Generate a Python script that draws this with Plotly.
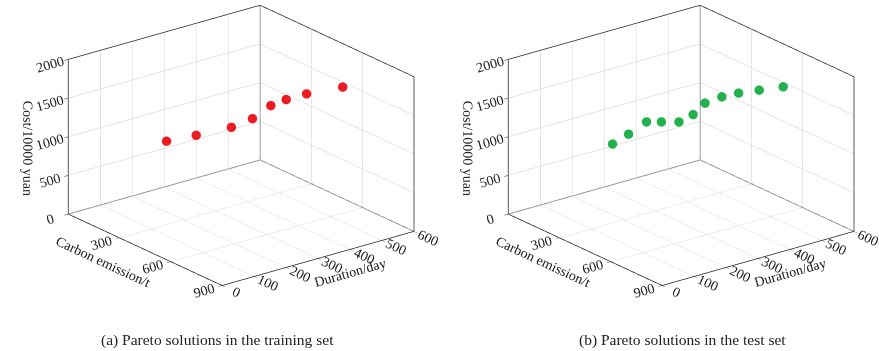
import plotly.graph_objects as go

# Panel (a) training set Pareto solutions
train_carbon = [251, 301, 346, 355, 354, 371, 432, 580]
train_duration = [173, 239, 325, 386, 444, 483, 514, 548]
train_cost = [1000, 1050, 1100, 1150, 1250, 1300, 1400, 1600]

# Panel (b) test set Pareto solutions
test_carbon = [256, 275, 279, 312, 351, 355, 322, 340, 378, 461, 579]
test_duration = [189, 229, 283, 312, 346, 388, 443, 486, 518, 538, 550]
test_cost = [950, 1050, 1150, 1150, 1150, 1200, 1250, 1300, 1350, 1450, 1600]

carbon_ticks = [0, 300, 600, 900]
duration_ticks = [0, 100, 200, 300, 400, 500, 600]
cost_ticks = [0, 500, 1000, 1500, 2000]

captions = ["(a) Pareto solutions in the training set", "(b) Pareto solutions in the test set"]

FONT = "Liberation Serif"
EYE = 1.6
S = 1.426
DIR = (0.735, -0.573, 0.362)
CENTER = (-0.0248, -0.1331, -0.1599)

c0, c1 = carbon_ticks[0], carbon_ticks[-1]
d0, d1 = duration_ticks[0], duration_ticks[-1]
k0, k1 = cost_ticks[0], cost_ticks[-1]

# box edges (back planes + front floor edges), derived from the axis ranges
edges = [
    ((c0, d0, k0), (c0, d0, k1)), ((c0, d1, k0), (c0, d1, k1)), ((c1, d1, k0), (c1, d1, k1)),
    ((c0, d0, k1), (c0, d1, k1)), ((c0, d1, k1), (c1, d1, k1)),
    ((c0, d0, k0), (c0, d1, k0)), ((c0, d1, k0), (c1, d1, k0)),
    ((c0, d0, k0), (c1, d0, k0)), ((c1, d0, k0), (c1, d1, k0)),
]
ex, ey, ez = [], [], []
for a, b in edges:
    ex += [a[0], b[0], None]
    ey += [a[1], b[1], None]
    ez += [a[2], b[2], None]

fig = go.Figure()
for sc in ["scene", "scene2"]:
    fig.add_trace(go.Scatter3d(x=ex, y=ey, z=ez, mode="lines",
                               line=dict(color="#262626", width=1.5),
                               hoverinfo="skip", scene=sc, showlegend=False))
fig.add_trace(go.Scatter3d(x=train_carbon, y=train_duration, z=train_cost, mode="markers",
                           marker=dict(size=5.5, color="#ED1C24", line=dict(width=0)),
                           scene="scene", showlegend=False))
fig.add_trace(go.Scatter3d(x=test_carbon, y=test_duration, z=test_cost, mode="markers",
                           marker=dict(size=5.5, color="#22B14C", line=dict(width=0)),
                           scene="scene2", showlegend=False))


def axis(title, rng, ticks):
    return dict(
        title=dict(text=title, font=dict(family=FONT, size=14, color="#222")),
        range=rng, tickvals=ticks, ticktext=[str(t) for t in ticks],
        tickfont=dict(family=FONT, size=13, color="#222"),
        showbackground=False, gridcolor="#cccccc", gridwidth=1,
        showline=True, linecolor="#222", linewidth=1, mirror=True,
        ticks="outside", ticklen=5, tickcolor="#222",
        zeroline=False, showspikes=False,
    )


def scene(domain_x, center):
    cx, cy, cz = center
    return dict(
        domain=dict(x=domain_x, y=[0.0, 1.0]),
        xaxis=axis("Carbon emission/t", [c0, c1], carbon_ticks),
        yaxis=axis("Duration/day", [d0, d1], duration_ticks),
        zaxis=axis("Cost/10000 yuan", [k0, k1], cost_ticks),
        aspectmode="manual",
        aspectratio=dict(x=1.0 * S, y=0.972 * S, z=0.663 * S),
        camera=dict(eye=dict(x=DIR[0] * EYE + cx, y=DIR[1] * EYE + cy, z=DIR[2] * EYE + cz),
                    up=dict(x=0, y=0, z=1), center=dict(x=cx, y=cy, z=cz),
                    projection=dict(type="orthographic")),
        bgcolor="white",
    )


fig.update_layout(
    width=879, height=351,
    margin=dict(l=0, r=0, t=0, b=0),
    paper_bgcolor="white",
    scene=scene([0.0, 0.5], CENTER),
    scene2=scene([0.5, 1.0], CENTER),
    annotations=[
        dict(text=captions[0], x=217.5 / 879, y=1 - 340 / 351, xref="paper", yref="paper",
             xanchor="center", yanchor="middle",
             showarrow=False, font=dict(family=FONT, size=15.5, color="#222")),
        dict(text=captions[1], x=682 / 879, y=1 - 340 / 351, xref="paper", yref="paper",
             xanchor="center", yanchor="middle",
             showarrow=False, font=dict(family=FONT, size=15.5, color="#222")),
    ],
)

fig.write_html("out.html")
